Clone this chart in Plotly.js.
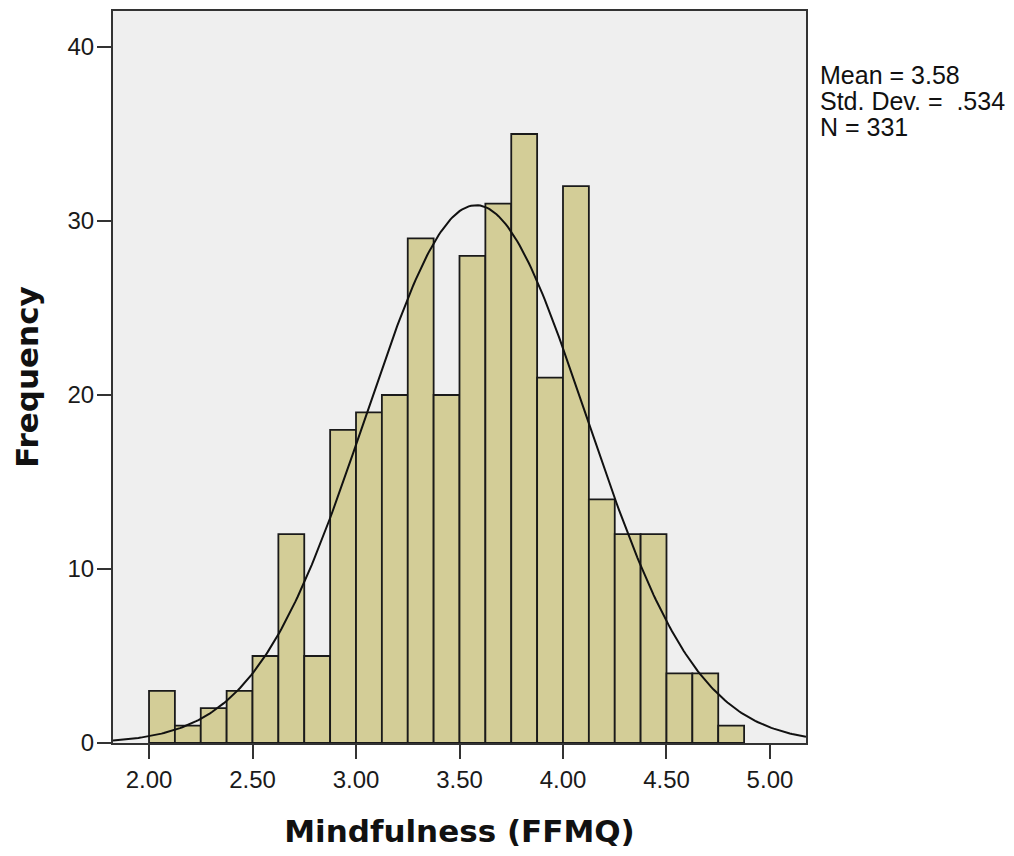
<!DOCTYPE html>
<html>
<head>
<meta charset="utf-8">
<script src="https://cdn.plot.ly/plotly-3.0.1.min.js"></script>
<style>
  html, body { margin: 0; padding: 0; background: #ffffff; }
  #chart { width: 1014px; height: 856px; }
</style>
</head>
<body>
<div id="chart"></div>
<script>
// Histogram of FFMQ mindfulness scores, bins of width 0.125
const binStart = [2.000, 2.125, 2.250, 2.375, 2.500, 2.625, 2.750, 2.875,
                  3.000, 3.125, 3.250, 3.375, 3.500, 3.625, 3.750, 3.875,
                  4.000, 4.125, 4.250, 4.375, 4.500, 4.625, 4.750];
const frequency = [3, 1, 2, 3, 5, 12, 5, 18,
                   19, 20, 29, 20, 28, 31, 35, 21,
                   32, 14, 12, 12, 4, 4, 1];
const binWidth = 0.125;

// Descriptive statistics shown beside the plot
const meanValue = 3.58;
const stdDev = 0.534;
const sampleN = 331;
const statLabels = ["Mean = 3.58", "Std. Dev. =&nbsp; .534", "N = 331"];

const xTickVals = [2.0, 2.5, 3.0, 3.5, 4.0, 4.5, 5.0];
const xRange = [1.826, 5.174];
const yRange = [0, 42.07];

// Normal density scaled to counts per bin
const curveX = [];
const curveY = [];
const steps = 300;
for (let i = 0; i <= steps; i++) {
  const x = xRange[0] + (xRange[1] - xRange[0]) * i / steps;
  const z = (x - meanValue) / stdDev;
  curveX.push(x);
  curveY.push(sampleN * binWidth * Math.exp(-0.5 * z * z) / (stdDev * Math.sqrt(2 * Math.PI)));
}

const bars = {
  type: 'bar',
  x: binStart.map(b => b + binWidth / 2),
  y: frequency,
  width: binWidth,
  marker: { color: '#d3cd97', line: { color: '#1a1a1a', width: 1.8 } },
  hoverinfo: 'x+y'
};

const curve = {
  type: 'scatter',
  mode: 'lines',
  x: curveX,
  y: curveY,
  line: { color: '#111111', width: 2 },
  hoverinfo: 'skip'
};

const tickFont = { family: 'Liberation Sans, Arial, sans-serif', size: 24, color: '#1a1a1a' };
const titleFont = { family: 'DejaVu Sans, Verdana, sans-serif', size: 31, color: '#111111', weight: 'bold' };

const statY = [0.913, 0.877, 0.841];
const annotations = statLabels.map((t, i) => ({
  xref: 'paper', yref: 'paper',
  x: 1.018, y: statY[i],
  xanchor: 'left', yanchor: 'middle',
  text: t, showarrow: false,
  font: { family: 'Liberation Sans, Arial, sans-serif', size: 25, color: '#111111' }
}));

const layout = {
  width: 1014,
  height: 856,
  margin: { l: 113, r: 207.5, t: 11, b: 113 },
  paper_bgcolor: '#ffffff',
  plot_bgcolor: '#efefef',
  showlegend: false,
  bargap: 0,
  xaxis: {
    range: xRange,
    tickvals: xTickVals,
    tickformat: '.2f',
    ticks: 'outside',
    ticklen: 14,
    tickwidth: 2,
    tickcolor: '#333333',
    showline: true,
    linecolor: '#333333',
    linewidth: 2,
    mirror: true,
    showgrid: false,
    zeroline: false,
    tickfont: tickFont,
    title: { text: 'Mindfulness (FFMQ)', font: titleFont, standoff: 29 }
  },
  yaxis: {
    range: yRange,
    tickvals: [0, 10, 20, 30, 40],
    ticks: 'outside',
    ticklen: 14,
    tickwidth: 2,
    tickcolor: '#333333',
    showline: true,
    linecolor: '#333333',
    linewidth: 2,
    mirror: true,
    showgrid: false,
    zeroline: false,
    tickfont: tickFont,
    ticklabelstandoff: -2,
    title: { text: 'Frequency', font: titleFont, standoff: 20 }
  },
  annotations: annotations
};

Plotly.newPlot('chart', [bars, curve], layout, { displayModeBar: false, staticPlot: true });
</script>
</body>
</html>
